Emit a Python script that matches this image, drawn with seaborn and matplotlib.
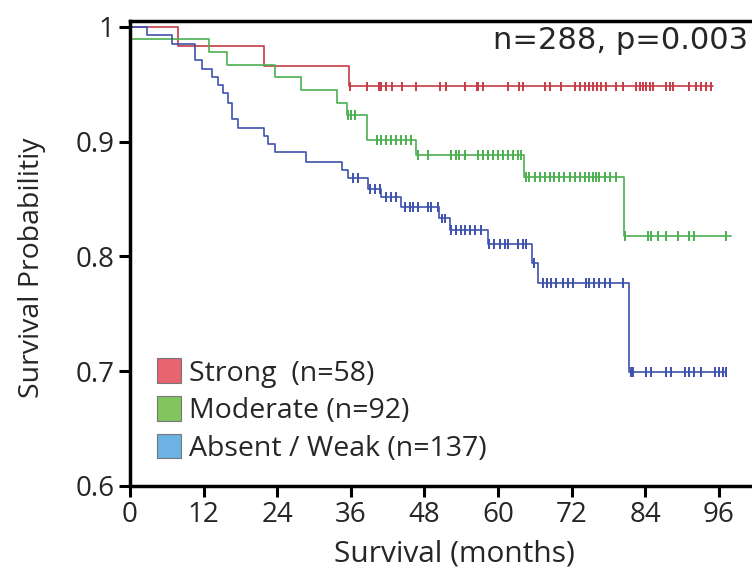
import numpy as np
import pandas as pd
import matplotlib
matplotlib.use("Agg")
import matplotlib.pyplot as plt
from matplotlib.patches import Patch
import seaborn as sns

# ---- data ----
groups = ["Strong", "Moderate", "Absent / Weak"]
legend_labels = ["Strong  (n=58)", "Moderate (n=92)", "Absent / Weak (n=137)"]

# step times (months) and survival after each step (first point = start)
strong_t = [0, 7.8, 21.8, 35.7]
strong_s = [1.0, 0.983, 0.966, 0.948]
strong_end = 95.0
strong_cens = [35.8, 38.7, 40.6, 40.9, 41.8, 42.7, 44.4, 46.6, 50.5, 51.5, 54.6, 56.5,
               56.8, 57.5, 61.6, 63.4, 64.1, 67.6, 68.4, 70.3, 72.5, 73.3, 74.1, 74.8,
               75.5, 76.1, 76.8, 77.6, 79.3, 80.3, 82.5, 83.1, 83.6, 84.2, 84.7, 85.3,
               87.4, 88.0, 88.6, 91.2, 92.3, 93.1, 93.9, 94.7]

moderate_t = [0, 12.9, 15.8, 23.6, 27.9, 33.7, 35.4, 38.7, 46.7, 64.2, 80.5]
moderate_s = [0.989, 0.978, 0.967, 0.956, 0.945, 0.934, 0.923, 0.901, 0.888, 0.869, 0.818]
moderate_end = 98.0
moderate_cens = [35.6, 36.1, 36.6, 40.2, 41.0, 41.8, 42.6, 43.4, 44.2, 45.0, 45.8,
                 46.9, 48.6, 52.4, 53.2, 53.7, 54.6, 56.7, 57.5, 58.4, 59.2, 60.0, 60.8,
                 61.6, 62.4, 63.3, 63.8, 64.5, 65.1, 66.0, 66.8, 67.6, 68.4, 69.2, 70.0,
                 70.8, 71.7, 72.5, 73.3, 74.1, 74.9, 75.5, 76.0, 76.5, 77.4, 78.2, 79.3,
                 80.7, 84.4, 85.0, 86.0, 87.4, 89.3, 91.2, 92.0, 97.2]

weak_t = [0, 2.7, 6.8, 10.6, 11.7, 13.3, 14.4, 15.2, 16.0, 16.6, 17.6, 21.8, 22.5, 23.6,
          28.7, 34.6, 35.6, 38.8, 41.0, 44.2, 50.4, 52.1, 58.4, 65.6, 66.5, 81.3]
weak_s = [1.0, 0.993, 0.985, 0.971, 0.963, 0.956, 0.949, 0.942, 0.934, 0.920, 0.912,
          0.905, 0.898, 0.891, 0.882, 0.875, 0.868, 0.859, 0.852, 0.843, 0.833, 0.823,
          0.811, 0.794, 0.777, 0.699]
weak_end = 97.2
weak_cens = [36.4, 37.2, 39.2, 39.9, 40.7, 41.8, 42.6, 43.4, 44.8, 45.6, 46.1, 46.9,
             48.6, 49.1, 50.2, 50.8, 51.3, 52.4, 53.2, 54.0, 54.6, 55.4, 56.2, 57.3,
             58.6, 59.4, 60.3, 61.1, 61.6, 63.3, 64.1, 64.6, 65.9, 67.3, 67.9, 68.7,
             69.5, 70.6, 71.4, 72.2, 74.4, 74.9, 75.7, 76.5, 77.4, 78.2, 80.3, 81.6,
             82.0, 84.1, 84.9, 87.4, 88.2, 90.4, 91.2, 92.0, 93.1, 95.3, 96.1, 96.6, 97.2]

line_colors = ["#c63c46", "#4caf50", "#3d52ad"]
patch_colors = ["#e8646e", "#82c55e", "#6cb2e2"]

# ---- build long tables ----
curves, cens = [], []
for g, t, s, end, c in zip(groups,
                           [strong_t, moderate_t, weak_t],
                           [strong_s, moderate_s, weak_s],
                           [strong_end, moderate_end, weak_end],
                           [strong_cens, moderate_cens, weak_cens]):
    tt = list(t) + [end]
    ss = list(s) + [s[-1]]
    curves.append(pd.DataFrame({"group": g, "time": tt, "surv": ss}))
    idx = np.searchsorted(np.array(t), np.array(c), side="right") - 1
    cens.append(pd.DataFrame({"group": g, "time": c, "surv": np.array(s)[idx]}))
df = pd.concat(curves, ignore_index=True)
dc = pd.concat(cens, ignore_index=True)

# ---- plot ----
sns.set_style("white")
plt.rcParams["font.family"] = ["Open Sans", "DejaVu Sans"]

fig = plt.figure(figsize=(7.52, 5.70), dpi=100)
ax = fig.add_axes([130 / 752, 1 - 486 / 570, 622 / 752, (486 - 21) / 570])

pal = dict(zip(groups, line_colors))
sns.lineplot(data=df, x="time", y="surv", hue="group", palette=pal,
             drawstyle="steps-post", estimator=None, linewidth=1.2,
             legend=False, ax=ax)
sns.scatterplot(data=dc, x="time", y="surv", hue="group", palette=pal,
                marker="|", s=50, linewidth=1.4, legend=False, ax=ax, zorder=3)

ax.set_xlim(0, 101.4)
ax.set_ylim(0.6, 1.005)
ax.set_xticks(np.arange(0, 97, 12))
ax.set_yticks([0.6, 0.7, 0.8, 0.9, 1.0])
ax.set_yticklabels(["0.6", "0.7", "0.8", "0.9", "1"])
ax.tick_params(axis="both", which="major", labelsize=20, length=8, width=2.2,
               direction="out", color="black", pad=3)
ax.tick_params(axis="both", bottom=True, left=True)

for side in ["left", "bottom", "top"]:
    ax.spines[side].set_visible(True)
    ax.spines[side].set_color("black")
    ax.spines[side].set_linewidth(2.5)
ax.spines["right"].set_visible(False)

ax.set_xlabel("Survival (months)", fontsize=21.5)
ax.set_ylabel("Survival Probabilitiy", fontsize=20.5)
ax.xaxis.set_label_coords(0.521, -0.115)
ax.yaxis.set_label_coords(-0.135, 0.47)

ax.text(0.993, 0.99, "n=288, p=0.003", transform=ax.transAxes, ha="right", va="top",
        fontsize=22, family=["DejaVu Sans"])

handles = [Patch(facecolor=c, edgecolor="#777777", linewidth=0.8) for c in patch_colors]
ax.legend(handles, legend_labels, loc="lower left", bbox_to_anchor=(0.043, 0.05),
          frameon=False, fontsize=20.5, handlelength=0.85, handleheight=0.95,
          handletextpad=0.3, labelspacing=0.3, borderaxespad=0, borderpad=0)

fig.savefig("out.png", dpi=100)
